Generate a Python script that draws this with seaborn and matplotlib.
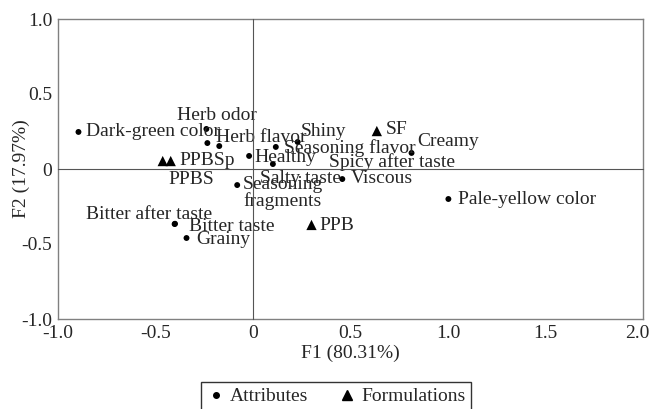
import pandas as pd
import matplotlib
matplotlib.use("Agg")
import matplotlib.pyplot as plt
import matplotlib.transforms as mtransforms
import seaborn as sns
from matplotlib.lines import Line2D

sns.set_style("white")
plt.rcParams['font.family'] = ['Liberation Serif', 'DejaVu Serif']
plt.rcParams['font.size'] = 14

# Attribute loadings (F1, F2)
attr_names = ['Dark-green color', 'Herb odor', 'Herb flavor', 'Spicy after taste',
              'Healthy', 'Seasoning flavor', 'Shiny', 'Salty taste',
              'Seasoning\nfragments', 'Bitter after taste', 'Bitter taste', 'Grainy',
              'Viscous', 'Creamy', 'Pale-yellow color']
attr_f1 = [-0.895, -0.239, -0.234, -0.173, -0.020, 0.117, 0.229, 0.102,
           -0.081, -0.402, -0.400, -0.341, 0.458, 0.813, 1.002]
attr_f2 = [0.247, 0.267, 0.173, 0.153, 0.087, 0.147, 0.180, 0.033,
           -0.107, -0.367, -0.365, -0.460, -0.067, 0.107, -0.200]

# Formulation scores
form_names = ['PPBS', 'PPBSp', 'SF', 'PPB']
form_f1 = [-0.463, -0.422, 0.635, 0.300]
form_f2 = [0.053, 0.053, 0.253, -0.373]

x_ticks = [-1.0, -0.5, 0, 0.5, 1.0, 1.5, 2.0]
x_tick_labels = ['-1.0', '-0.5', '0', '0.5', '1.0', '1.5', '2.0']
y_ticks = [-1.0, -0.5, 0, 0.5, 1.0]
y_tick_labels = ['-1.0', '-0.5', '0', '0.5', '1.0']

# label placement (offset in pixels from the point, ha, va)
label_pos = {
    'Dark-green color': (8, 0, 'left', 'center'),
    'Herb odor': (11, 13, 'center', 'center'),
    'Herb flavor': (9, 6, 'left', 'center'),
    'Spicy after taste': (110, -16, 'left', 'center'),
    'Healthy': (5, -2, 'left', 'center'),
    'Seasoning flavor': (8, -1, 'left', 'center'),
    'Shiny': (3, 10, 'left', 'center'),
    'Salty taste': (-13, -14, 'left', 'center'),
    'Seasoning\nfragments': (6, 9, 'left', 'top'),
    'Bitter after taste': (-89, 10, 'left', 'center'),
    'Bitter taste': (14, -3, 'left', 'center'),
    'Grainy': (10, -1, 'left', 'center'),
    'Viscous': (8, 1, 'left', 'center'),
    'Creamy': (6, 11, 'left', 'center'),
    'Pale-yellow color': (10, -1, 'left', 'center'),
    'PPBS': (6, -18, 'left', 'center'),
    'PPBSp': (9, 1, 'left', 'center'),
    'SF': (9, 2, 'left', 'center'),
    'PPB': (8, -1, 'left', 'center'),
}

attr_df = pd.DataFrame({'F1': attr_f1, 'F2': attr_f2, 'name': attr_names})
form_df = pd.DataFrame({'F1': form_f1, 'F2': form_f2, 'name': form_names})

fig = plt.figure(figsize=(6.53, 4.09), dpi=100)
ax = fig.add_axes([58 / 653, 1 - 319 / 409, (643 - 58) / 653, 300 / 409])

sns.scatterplot(data=attr_df, x='F1', y='F2', ax=ax, marker='o', color='black',
                s=18, edgecolor='none', zorder=3)
sns.scatterplot(data=form_df, x='F1', y='F2', ax=ax, marker='^', color='black',
                s=55, edgecolor='none', zorder=3)

for df in (attr_df, form_df):
    for _, r in df.iterrows():
        dx, dy, ha, va = label_pos[r['name']]
        ax.annotate(r['name'], xy=(r['F1'], r['F2']), xytext=(dx, dy),
                    textcoords='offset pixels', ha=ha, va=va, fontsize=14,
                    linespacing=0.9, zorder=4)

ax.set_xlim(-1.0, 2.0)
ax.set_ylim(-1.0, 1.0)
ax.set_xticks(x_ticks)
ax.set_xticklabels(x_tick_labels)
ax.set_yticks(y_ticks)
ax.set_yticklabels(y_tick_labels)
ax.tick_params(axis='both', direction='out', length=3, width=0.8, color='#808080',
               labelsize=14, pad=1)
for sp in ax.spines.values():
    sp.set_visible(True)
    sp.set_color('#808080')
    sp.set_linewidth(1.0)
ax.set_xlabel('F1 (80.31%)', fontsize=14, labelpad=2)
ax.set_ylabel('')
fig.text(21 / 653, 1 - 169 / 409, 'F2 (17.97%)', rotation=90, ha='center',
         va='center', fontsize=14)

# last x tick label sits a little left so it stays inside the figure
last = ax.get_xticklabels()[-1]
last.set_transform(last.get_transform() +
                   mtransforms.ScaledTranslation(-0.06, 0, fig.dpi_scale_trans))

# center axes through the origin
ax0 = fig.add_axes(ax.get_position(), sharex=ax, sharey=ax, facecolor='none')
ax0.spines['left'].set_position('zero')
ax0.spines['bottom'].set_position('zero')
ax0.spines['top'].set_visible(False)
ax0.spines['right'].set_visible(False)
ax0.spines['left'].set_color('#555555')
ax0.spines['bottom'].set_color('#555555')
ax0.tick_params(axis='both', direction='inout', length=5, width=0.8, color='#555555',
                labelleft=False, labelbottom=False)
ax0.set_xlabel('')
ax0.set_ylabel('')
ax0.patch.set_visible(False)

handles = [Line2D([], [], marker='o', color='black', linestyle='none', markersize=4),
           Line2D([], [], marker='^', color='black', linestyle='none', markersize=7)]
leg = fig.legend(handles, ['Attributes', 'Formulations'], ncol=2,
                 loc='upper center', bbox_to_anchor=(336 / 653, 1 - 382 / 409),
                 borderaxespad=0, frameon=True, fancybox=False, fontsize=14,
                 handletextpad=0.2, handlelength=1.0, columnspacing=1.5,
                 borderpad=0.3)
leg.get_frame().set_edgecolor('black')
leg.get_frame().set_linewidth(1.0)

fig.savefig('out.png', dpi=100)
